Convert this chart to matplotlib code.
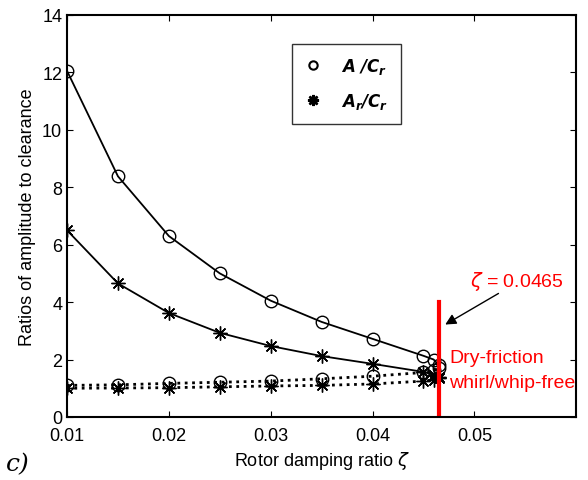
import matplotlib.pyplot as plt

plt.rcParams['font.family'] = ['Liberation Sans', 'DejaVu Sans']

zeta = [0.01, 0.015, 0.02, 0.025, 0.03, 0.035, 0.04, 0.045, 0.046, 0.0465]
a_upper = [12.05, 8.38, 6.3, 5.0, 4.05, 3.31, 2.72, 2.13, 2.0, 1.81]
ar_upper = [6.5, 4.65, 3.62, 2.93, 2.47, 2.12, 1.85, 1.57, 1.47, 1.4]
a_lower = [1.1, 1.12, 1.17, 1.21, 1.25, 1.33, 1.42, 1.55, 1.62, 1.7]
ar_lower = [1.0, 1.01, 1.02, 1.05, 1.08, 1.1, 1.15, 1.25, 1.3, 1.35]
zeta_crit = 0.0465

ast = (8, 2, 0)  # matlab-like asterisk

fig = plt.figure(figsize=(5.88, 4.81), dpi=100)
ax = fig.add_axes([0.114, 0.131, 0.866, 0.836])

ax.plot(zeta, a_upper, 'k-', lw=1.3, marker='o', ms=9, mfc='none', mew=1.0)
ax.plot(zeta, ar_upper, 'k-', lw=1.3, marker=ast, ms=10, mew=1.0)
ax.plot(zeta, a_lower, 'k:', lw=2, marker='o', ms=9, mfc='none', mew=1.0)
ax.plot(zeta, ar_lower, 'k:', lw=2, marker=ast, ms=10, mew=1.0)

# legend-only handles
h1, = ax.plot([], [], 'o', color='k', mfc='none', ms=6, mew=1.5)
h2, = ax.plot([], [], marker=ast, ls='none', color='k', ms=8, mew=1.8)
leg = ax.legend([h1, h2], [r'$\mathbfit{A}\ \mathbfit{/C_r}$', r'$\mathbfit{A_r/C_r}$'],
                loc='upper left', bbox_to_anchor=(0.442, 0.928), fancybox=False,
                edgecolor='k', fontsize=12, handlelength=1.0, labelspacing=0.9,
                borderpad=0.75, handletextpad=1.2, borderaxespad=0)
leg.get_frame().set_linewidth(1.0)

ax.plot([zeta_crit, zeta_crit], [0, 4], color='red', lw=3)
ax.annotate('', xy=(0.0469, 3.17), xytext=(0.0526, 4.35),
            arrowprops=dict(arrowstyle='-|>', color='k', lw=1, mutation_scale=16))
ax.text(0.0496, 4.55, r'$\zeta$ = 0.0465', color='red', fontsize=14)
ax.text(0.0475, 1.9, 'Dry-friction', color='red', fontsize=14)
ax.text(0.0475, 1.05, 'whirl/whip-free', color='red', fontsize=14)

ax.set_xlim(0.01, 0.06)
ax.set_ylim(0, 14)
ax.set_xticks([0.01, 0.02, 0.03, 0.04, 0.05])
ax.set_xticklabels(['0.01', '0.02', '0.03', '0.04', '0.05'])
ax.set_yticks(range(0, 15, 2))
ax.tick_params(direction='in', top=True, right=True, labelsize=13, length=4)
ax.tick_params(axis='x', pad=7)
for s in ax.spines.values():
    s.set_linewidth(1.5)

ax.set_xlabel(r'Rotor damping ratio $\zeta$', fontsize=13)
ax.set_ylabel('Ratios of amplitude to clearance', fontsize=13)
fig.text(0.01, 0.02, 'c)', fontsize=18, family='DejaVu Serif', style='italic')

fig.savefig('out.png', dpi=100)
